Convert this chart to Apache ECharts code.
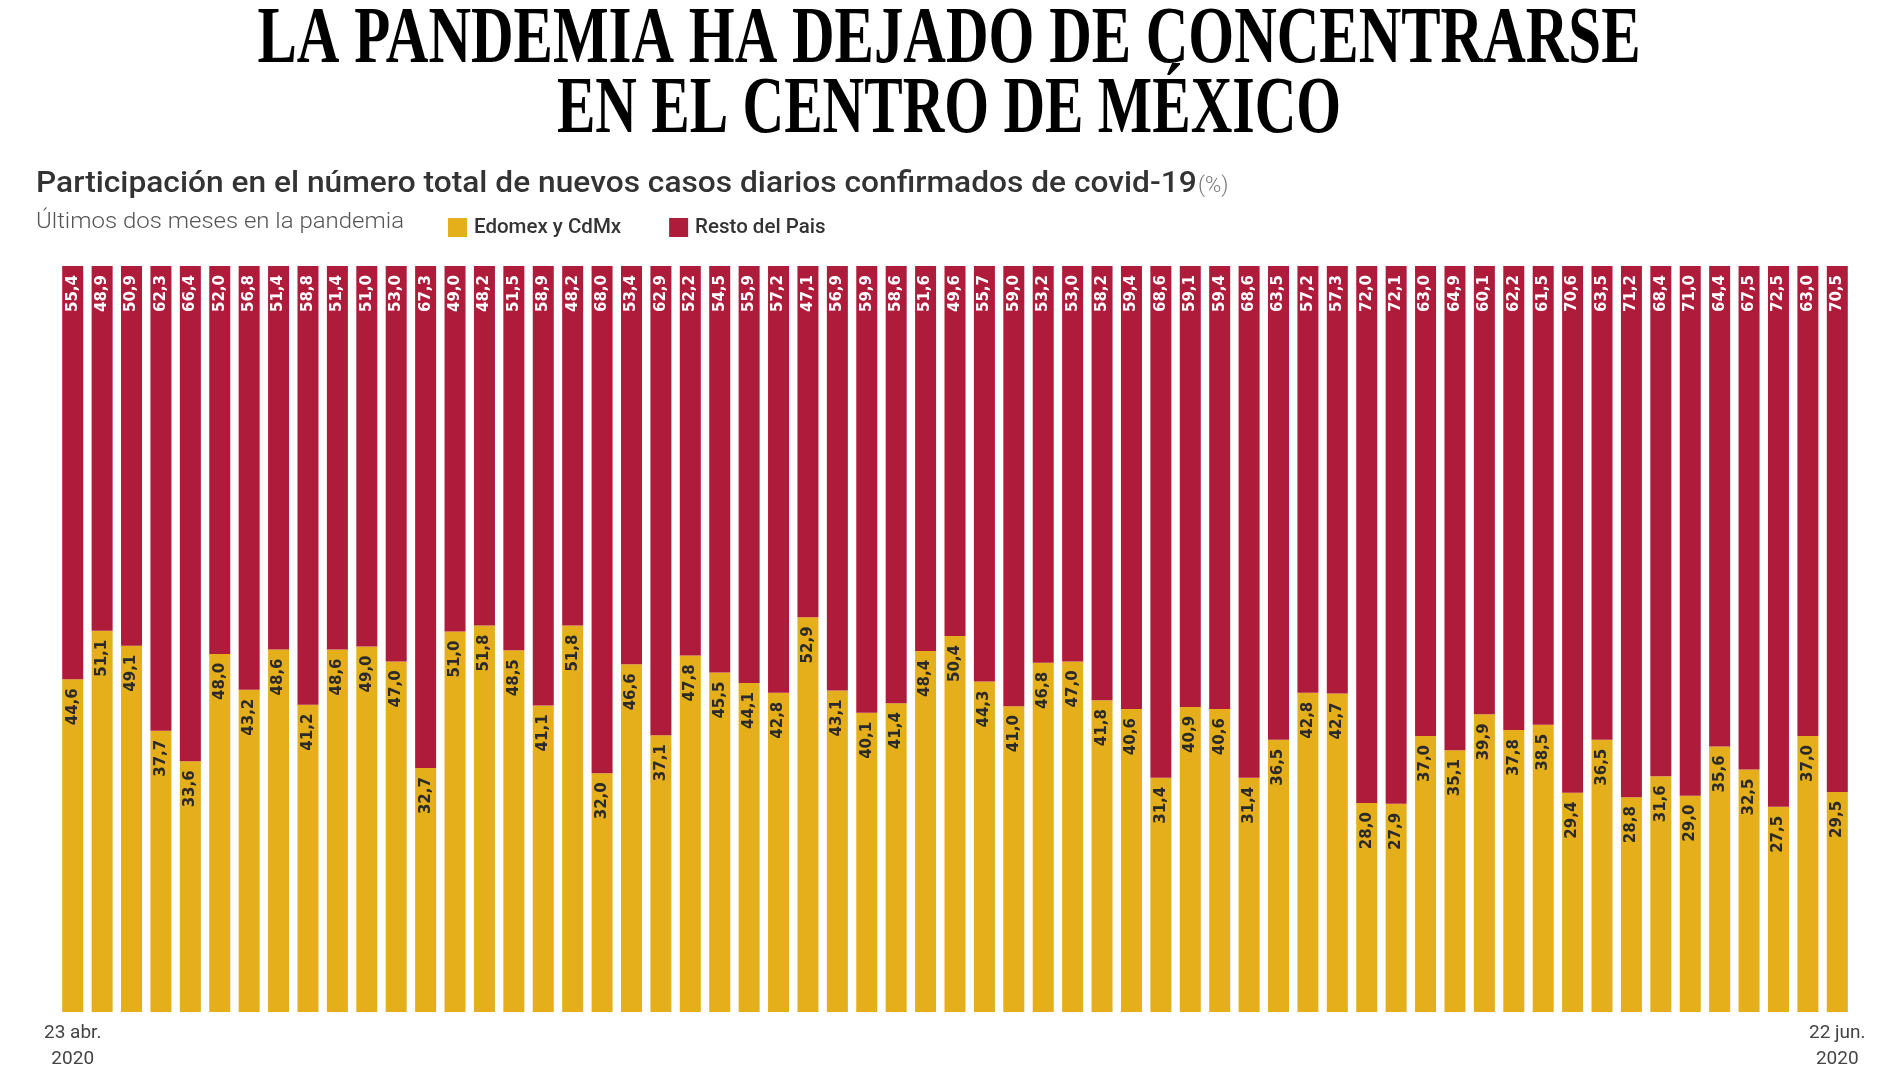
<!DOCTYPE html>
<html>
<head>
<meta charset="utf-8">
<script src="https://cdn.jsdelivr.net/npm/echarts@6/dist/echarts.min.js"></script>
<style>
html,body{margin:0;padding:0;background:#fff;}
#chart{width:1900px;height:1068px;}
</style>
</head>
<body>
<div id="chart"></div>
<script>
const categories = [
  '23 abr.','24 abr.','25 abr.','26 abr.','27 abr.','28 abr.','29 abr.','30 abr.',
  '1 may.','2 may.','3 may.','4 may.','5 may.','6 may.','7 may.','8 may.','9 may.','10 may.',
  '11 may.','12 may.','13 may.','14 may.','15 may.','16 may.','17 may.','18 may.','19 may.','20 may.',
  '21 may.','22 may.','23 may.','24 may.','25 may.','26 may.','27 may.','28 may.','29 may.','30 may.','31 may.',
  '1 jun.','2 jun.','3 jun.','4 jun.','5 jun.','6 jun.','7 jun.','8 jun.','9 jun.','10 jun.',
  '11 jun.','12 jun.','13 jun.','14 jun.','15 jun.','16 jun.','17 jun.','18 jun.','19 jun.','20 jun.',
  '21 jun.','22 jun.'
];
const edomexCdmx = [
  44.6, 51.1, 49.1, 37.7, 33.6, 48.0, 43.2, 48.6, 41.2, 48.6,
  49.0, 47.0, 32.7, 51.0, 51.8, 48.5, 41.1, 51.8, 32.0, 46.6,
  37.1, 47.8, 45.5, 44.1, 42.8, 52.9, 43.1, 40.1, 41.4, 48.4,
  50.4, 44.3, 41.0, 46.8, 47.0, 41.8, 40.6, 31.4, 40.9, 40.6,
  31.4, 36.5, 42.8, 42.7, 28.0, 27.9, 37.0, 35.1, 39.9, 37.8,
  38.5, 29.4, 36.5, 28.8, 31.6, 29.0, 35.6, 32.5, 27.5, 37.0,
  29.5
];
const restoPais = [
  55.4, 48.9, 50.9, 62.3, 66.4, 52.0, 56.8, 51.4, 58.8, 51.4,
  51.0, 53.0, 67.3, 49.0, 48.2, 51.5, 58.9, 48.2, 68.0, 53.4,
  62.9, 52.2, 54.5, 55.9, 57.2, 47.1, 56.9, 59.9, 58.6, 51.6,
  49.6, 55.7, 59.0, 53.2, 53.0, 58.2, 59.4, 68.6, 59.1, 59.4,
  68.6, 63.5, 57.2, 57.3, 72.0, 72.1, 63.0, 64.9, 60.1, 62.2,
  61.5, 70.6, 63.5, 71.2, 68.4, 71.0, 64.4, 67.5, 72.5, 63.0,
  70.5
];
const tickLabels = { 0: '23 abr.\n2020', 60: '22 jun.\n2020' };
const seriesNames = ['Edomex y CdMx', 'Resto del Pais'];

const YELLOW = '#E5AE1B';
const RED = '#AF1B3A';
const fmt = v => v.toFixed(1).replace('.', ',');

const chart = echarts.init(document.getElementById('chart'), null, {renderer: 'canvas'});
chart.setOption({
  backgroundColor: '#ffffff',
  animation: false,
  grid: { left: 58, right: 48, top: 266, bottom: 56, containLabel: false, outerBoundsMode: 'none' },
  legend: {
    left: 443, top: 212,
    itemWidth: 19, itemHeight: 19, itemGap: 48,
    icon: 'rect',
    textStyle: { fontFamily: 'Roboto', fontSize: 20.5, fontWeight: 500, color: '#333', padding: [0,0,0,2] },
    data: seriesNames
  },
  xAxis: {
    type: 'category',
    data: categories,
    axisLine: { show: false },
    axisTick: { show: false },
    axisLabel: {
      interval: 0,
      margin: 8,
      fontFamily: 'Roboto',
      fontSize: 19,
      color: '#444',
      lineHeight: 26,
      formatter: (v, i) => tickLabels[i] || ''
    }
  },
  yAxis: { type: 'value', min: 0, max: 100, show: false },
  series: [
    {
      name: seriesNames[0], type: 'bar', stack: 'total', data: edomexCdmx,
      barWidth: 21,
      itemStyle: { color: YELLOW },
      label: {
        show: true, position: 'insideTop', distance: 9, rotate: 90,
        align: 'right', verticalAlign: 'middle',
        fontFamily: 'DejaVu Sans', fontWeight: 'bold', fontSize: 15, color: '#2a2a2a',
        formatter: p => fmt(p.value)
      }
    },
    {
      name: seriesNames[1], type: 'bar', stack: 'total', data: restoPais,
      barWidth: 21,
      itemStyle: { color: RED },
      label: {
        show: true, position: 'insideTop', distance: 9, rotate: 90,
        align: 'right', verticalAlign: 'middle',
        fontFamily: 'DejaVu Sans', fontWeight: 'bold', fontSize: 15, color: '#ffffff',
        formatter: p => fmt(p.value)
      }
    }
  ],
  graphic: [
    { type: 'text', x: 949, y: 41, scaleX: 0.737, originX: 0,
      style: { text: 'LA PANDEMIA HA DEJADO DE CONCENTRARSE', fontFamily: 'Liberation Serif', fontWeight: 'bold', fontSize: 80, fill: '#000', align: 'center', verticalAlign: 'middle' } },
    { type: 'text', x: 949, y: 111, scaleX: 0.72, originX: 0,
      style: { text: 'EN EL CENTRO DE MÉXICO', fontFamily: 'Liberation Serif', fontWeight: 'bold', fontSize: 80, fill: '#000', align: 'center', verticalAlign: 'middle' } },
    { type: 'text', x: 36, y: 184, scaleX: 1.057,
      style: { text: 'Participación en el número total de nuevos casos diarios confirmados de covid-19', fontFamily: 'Roboto', fontWeight: 500, fontSize: 30, fill: '#333', align: 'left', verticalAlign: 'middle' } },
    { type: 'text', x: 1198, y: 186,
      style: { text: '(%)', fontFamily: 'Roboto', fontWeight: 300, fontSize: 22, fill: '#777', align: 'left', verticalAlign: 'middle' } },
    { type: 'text', x: 36, y: 222, scaleX: 1.09,
      style: { text: 'Últimos dos meses en la pandemia', fontFamily: 'Roboto', fontWeight: 300, fontSize: 22, fill: '#555', align: 'left', verticalAlign: 'middle' } }
  ]
});
</script>
</body>
</html>
